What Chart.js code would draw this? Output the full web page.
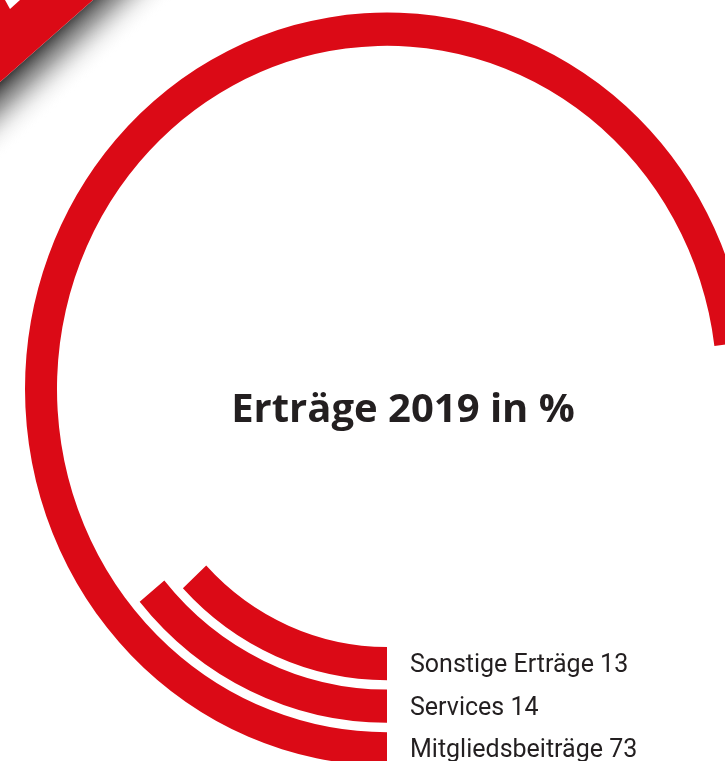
<!DOCTYPE html>
<html>
<head>
<meta charset="utf-8">
<script src="https://cdn.jsdelivr.net/npm/chart.js@4/dist/chart.umd.min.js"></script>
<style>
  html, body { margin: 0; padding: 0; background: #fff; overflow: hidden; }
  #wrap { width: 725px; height: 761px; overflow: hidden; position: relative; }
</style>
</head>
<body>
<div id="wrap">
  <canvas id="ringChart" width="774" height="761"></canvas>
</div>
<script>
const categories = ["Mitgliedsbeiträge", "Services", "Sonstige Erträge"];
const values = [73, 14, 13];
const title = "Erträge 2019 in %";

const red = "#db0a16";
const textColor = "#231f20";
const ringWeight = 32;
const gapWeight = 9;
const stretchY = 1.04;

// one dataset per ring, with a transparent spacer ring between them
const datasets = [];
categories.forEach((cat, i) => {
  if (i > 0) {
    datasets.push({
      label: "gap",
      data: [1],
      backgroundColor: ["rgba(0,0,0,0)"],
      borderWidth: 0,
      weight: gapWeight,
    });
  }
  datasets.push({
    label: cat,
    data: [values[i], 100 - values[i]],
    backgroundColor: [red, "rgba(0,0,0,0)"],
    borderWidth: 0,
    weight: ringWeight,
  });
});

// red corner ribbon with its shadow
const ribbon = {
  id: "ribbon",
  beforeDraw(chart) {
    const c = chart.ctx;
    c.save();
    const grad = c.createLinearGradient(46, 41, 84, 82);
    grad.addColorStop(0, "rgba(45,45,45,0.9)");
    grad.addColorStop(0.35, "rgba(110,110,110,0.6)");
    grad.addColorStop(0.7, "rgba(200,200,200,0.25)");
    grad.addColorStop(1, "rgba(255,255,255,0)");
    c.fillStyle = grad;
    c.beginPath();
    c.moveTo(93, 0);
    c.lineTo(180, 0);
    c.lineTo(0, 170);
    c.lineTo(0, 82);
    c.closePath();
    c.fill();
    c.fillStyle = red;
    c.beginPath();
    c.moveTo(0, 0);
    c.lineTo(93, 0);
    c.lineTo(0, 82);
    c.closePath();
    c.fill();
    c.fillStyle = "#fff";
    c.beginPath();
    c.moveTo(5, 0);
    c.lineTo(20, 0);
    c.lineTo(10, 9);
    c.closePath();
    c.fill();
    c.restore();
  },
};

// the rings are a little taller than wide
const stretch = {
  id: "stretch",
  beforeDatasetsDraw(chart) {
    const a = chart.chartArea;
    const cy = (a.top + a.bottom) / 2;
    chart.ctx.save();
    chart.ctx.translate(0, cy);
    chart.ctx.scale(1, stretchY);
    chart.ctx.translate(0, -cy);
  },
  afterDatasetsDraw(chart) {
    chart.ctx.restore();
  },
};

const ringLabels = {
  id: "ringLabels",
  afterDraw(chart) {
    const c = chart.ctx;
    const a = chart.chartArea;
    const cx = (a.left + a.right) / 2;
    const cy = (a.top + a.bottom) / 2;
    c.save();
    c.fillStyle = textColor;
    c.textAlign = "left";
    c.textBaseline = "alphabetic";
    c.font = "25px Roboto";
    chart.data.datasets.forEach((ds, i) => {
      const idx = categories.indexOf(ds.label);
      if (idx < 0) return;
      const arc = chart.getDatasetMeta(i).data[0];
      const mid = (arc.innerRadius + arc.outerRadius) / 2;
      const y = cy + mid * stretchY + 8.5;
      c.fillText(categories[idx] + " " + values[idx], cx + 23, y);
    });
    c.font = "bold 40px 'Open Sans'";
    c.textAlign = "center";
    c.fillText(title, cx + 16, cy + 33);
    c.restore();
  },
};

new Chart(document.getElementById("ringChart"), {
  type: "doughnut",
  data: { labels: ["value", "rest"], datasets: datasets },
  options: {
    responsive: false,
    animation: false,
    events: [],
    rotation: 180,
    circumference: 360,
    cutout: 248,
    layout: { padding: { top: 27, bottom: 10, left: 0, right: 0 } },
    plugins: {
      legend: { display: false },
      tooltip: { enabled: false },
    },
  },
  plugins: [ribbon, stretch, ringLabels],
});
</script>
</body>
</html>
